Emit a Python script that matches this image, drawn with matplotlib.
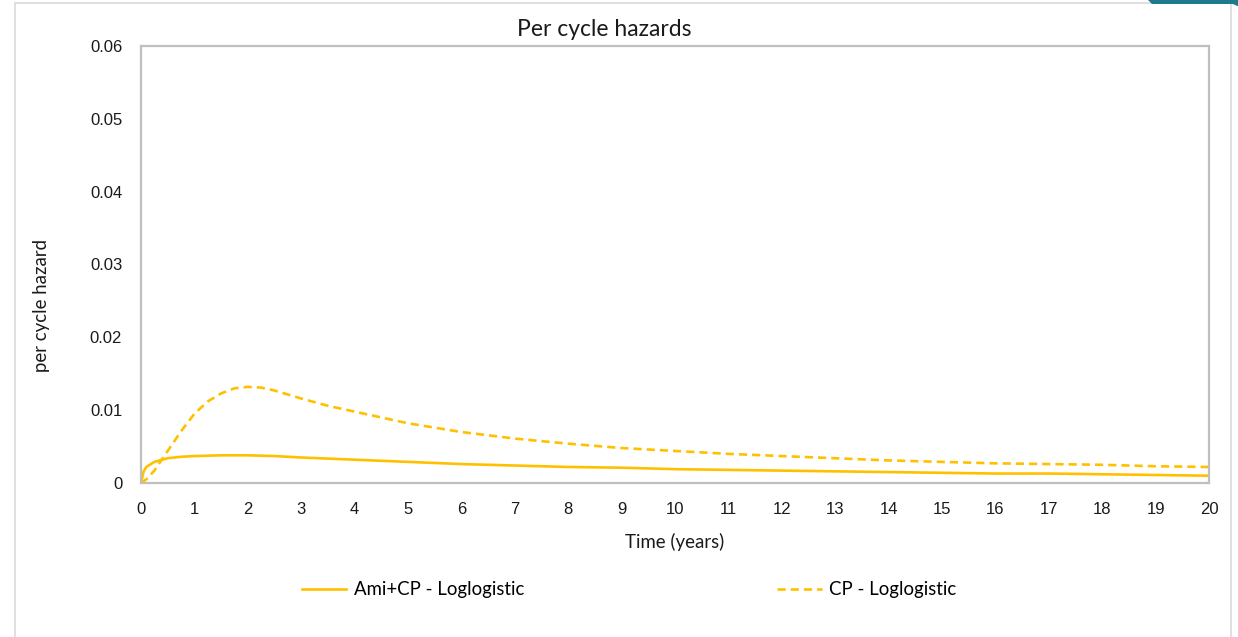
import matplotlib
matplotlib.use("Agg")
import matplotlib.pyplot as plt
from matplotlib.patches import Rectangle, Polygon

# Per cycle hazards
t_combo = [0, 0.05, 0.1, 0.25, 0.5, 0.75, 1, 1.5, 2, 2.5, 3, 4, 5, 6,
           7, 8, 9, 10, 11, 12, 13, 14, 15, 16, 17, 18, 19, 20]
h_combo = [0, 0.0016, 0.0022, 0.0029, 0.0034, 0.0036, 0.0037, 0.0038, 0.0038, 0.0037, 0.0035, 0.0032, 0.0029, 0.0026,
           0.0024, 0.0022, 0.0021, 0.0019, 0.0018, 0.0017, 0.0016, 0.0015, 0.0014, 0.0013, 0.0013, 0.0012, 0.0011, 0.0010]

t_cp = [0, 0.1, 0.25, 0.5, 0.75, 1, 1.25, 1.5, 1.75, 2, 2.25, 2.5, 3, 3.5, 4, 5, 6,
        7, 8, 9, 10, 11, 12, 13, 14, 15, 16, 17, 18, 19, 20]
h_cp = [0, 0.0005, 0.0017, 0.0044, 0.0071, 0.0095, 0.0112, 0.0123, 0.0130, 0.0132, 0.0131, 0.0127, 0.0116, 0.0106, 0.0098, 0.0082, 0.0070,
        0.0061, 0.0054, 0.0048, 0.0044, 0.0040, 0.0037, 0.0034, 0.0031, 0.0029, 0.0027, 0.0026, 0.0025, 0.0023, 0.0022]

labels = ["Ami+CP - Loglogistic", "CP - Loglogistic"]
x_ticks = list(range(0, 21))
y_ticks = [0, 0.01, 0.02, 0.03, 0.04, 0.05, 0.06]
y_tick_labels = ["0", "0.01", "0.02", "0.03", "0.04", "0.05", "0.06"]

gold = "#FFC000"
grey = "#BFBFBF"
W, H = 1238, 637

fig = plt.figure(figsize=(12.38, 6.37), dpi=100)
ax = fig.add_axes([141 / W, 1 - 483 / H, (1209 - 141) / W, (483 - 46) / H])

l1, = ax.plot(t_combo, h_combo, color=gold, lw=1.9)
l2, = ax.plot(t_cp, h_cp, color=gold, lw=1.9, dashes=(3.1, 1.9))

ax.set_xlim(0, 20)
ax.set_ylim(0, 0.06)
ax.set_xticks(x_ticks)
ax.set_yticks(y_ticks)
ax.set_yticklabels(y_tick_labels)
for s in ax.spines.values():
    s.set_color(grey)
    s.set_linewidth(1.6)
ax.tick_params(length=0, labelsize=12, labelcolor="#1a1a1a")
ax.tick_params(axis="y", pad=13.5)
ax.tick_params(axis="x", pad=14)
for lab in ax.get_xticklabels() + ax.get_yticklabels():
    lab.set_family("Liberation Sans")

fig.text(604 / W, 1 - 30 / H, "Per cycle hazards", ha="center", va="center",
         fontsize=16.5, family="Lato", color="#1a1a1a")
fig.text(675 / W, 1 - 542 / H, "Time (years)", ha="center", va="center",
         fontsize=13.4, family="Lato", color="#1a1a1a")
fig.text(42 / W, 1 - 305 / H, "per cycle hazard", ha="center", va="center",
         rotation=90, fontsize=13.4, family="Lato", color="#1a1a1a")

fig.legend([l1, l2], labels, loc="center", bbox_to_anchor=(629 / W, 1 - 590 / H),
           ncol=2, frameon=False, handlelength=2.4, handletextpad=0.4,
           columnspacing=13.6, borderpad=0, prop={"family": "Lato", "size": 13.4})

# outer chart frame and the clipped corner shape
fig.patches.append(Rectangle((15 / W, -0.02), (1231 - 15) / W, 1 - 3 / H + 0.02,
                             transform=fig.transFigure, fill=False,
                             edgecolor="#D9D9D9", lw=1.2))
fig.patches.append(Polygon([(1148 / W, 1), (1 + 0.01, 1), (1 + 0.01, 1 - 12 / H),
                            (1233 / W, 1 - 4 / H), (1152 / W, 1 - 4 / H)],
                           closed=True, transform=fig.transFigure,
                           facecolor="#217A8C", edgecolor="none"))

fig.savefig("out.png", dpi=100, facecolor="white")
